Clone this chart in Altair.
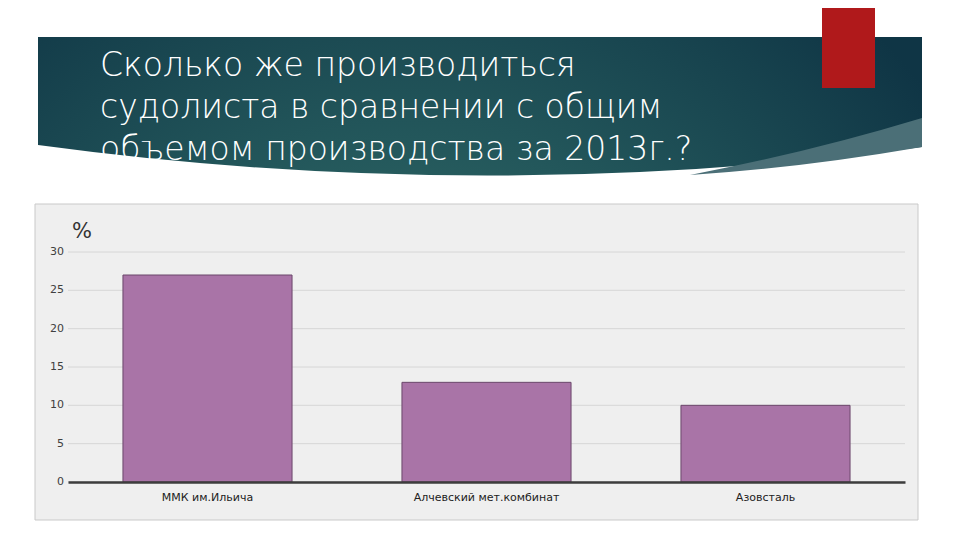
import altair as alt
import pandas as pd

# ---- data ----
categories = ["ММК им.Ильича", "Алчевский мет.комбинат", "Азовсталь"]
values = [27, 13, 10]
y_ticks = [0, 5, 10, 15, 20, 25, 30]
title_lines = ["Сколько же производиться", "судолиста в сравнении с общим", "объемом производства за 2013г.?"]
unit_label = "%"

df = pd.DataFrame({"company": categories, "share": values})
ticks_df = pd.DataFrame({"t": y_ticks})
one = pd.DataFrame({"a": [0]})

# layout (page coordinates of plot origin)
PL, PT = 60, 244
W, H = 837, 230
OX, OY = PL + 8, PT + 8


def px(x):
    return x - OX


def py(y):
    return y - OY


yscale = alt.Scale(domain=[0, 30])

# chart box background
box = alt.Chart(one).mark_rect(fill="#efefef", stroke="#c9c9c9", strokeWidth=1).encode(
    x=alt.value(px(35)), x2=alt.value(px(918)), y=alt.value(py(204)), y2=alt.value(py(520))
)

# header band with curved bottom (path in page coordinates, point placed at page origin)
band_path = "M 38 37 L 922 37 L 922 147 Q 480 205 38 145 Z"
band = alt.Chart(one).mark_point(
    shape=band_path, size=4, filled=True, opacity=1, strokeWidth=0,
    color=alt.RadialGradient(
        gradient="radial",
        x1=0.42, y1=0.95, r1=0.0, x2=0.42, y2=0.95, r2=0.75,
        stops=[alt.GradientStop(offset=0, color="#3f7d70"),
               alt.GradientStop(offset=0.55, color="#23575b"),
               alt.GradientStop(offset=1, color="#0f3545")],
    ),
).encode(x=alt.value(-OX), y=alt.value(-OY))

swoosh_path = "M 922 118 L 922 147 Q 800 168 690 175 Q 810 152 922 118 Z"
swoosh = alt.Chart(one).mark_point(
    shape=swoosh_path, size=4, filled=True, opacity=1, strokeWidth=0, color="#4b6f77"
).encode(x=alt.value(-OX), y=alt.value(-OY))

red = alt.Chart(one).mark_rect(color="#b0191b").encode(
    x=alt.value(px(822)), x2=alt.value(px(875)), y=alt.value(py(0)), y2=alt.value(py(88))
)

title = alt.Chart(one).mark_text(
    text="\n".join(title_lines), lineBreak="\n", lineHeight=42, align="left", baseline="alphabetic",
    font="DejaVu Sans", fontSize=33, fontWeight=200, color="#ffffff",
).encode(x=alt.value(px(100)), y=alt.value(py(76)))

unit = alt.Chart(one).mark_text(
    text=unit_label, align="center", baseline="middle", font="DejaVu Sans", fontSize=21,
    color="#333333",
).encode(x=alt.value(px(82)), y=alt.value(py(232)))

grid = alt.Chart(ticks_df).mark_rule(color="#d6d6d6", strokeWidth=1).encode(
    y=alt.Y("t:Q", scale=yscale, axis=None)
)

ylabels = alt.Chart(ticks_df).mark_text(
    align="right", baseline="middle", font="DejaVu Sans", fontSize=11, color="#404040"
).encode(
    y=alt.Y("t:Q", scale=yscale, axis=None),
    x=alt.value(-4),
    text=alt.Text("t:Q"),
)

bars = alt.Chart(df).mark_bar(color="#a974a7", stroke="#6b476b", strokeWidth=1).encode(
    x=alt.X(
        "company:N", sort=categories, title=None,
        scale=alt.Scale(paddingInner=0.394, paddingOuter=0.197),
        axis=alt.Axis(labelAngle=0, labelFontSize=11, labelColor="#222222", labelFont="DejaVu Sans",
                      labelPadding=9, ticks=False, domainColor="#3d3d3d", domainWidth=2.5, zindex=1),
    ),
    y=alt.Y("share:Q", title=None, scale=yscale, axis=None),
)

chart = alt.layer(box, band, swoosh, red, title, unit, grid, ylabels, bars).properties(
    width=W, height=H,
    autosize=alt.AutoSizeParams(type="none"),
    padding={"left": PL, "top": PT, "right": 944 - PL - W, "bottom": 524 - PT - H},
).configure_view(stroke=None)

chart.save("out.html", embed_options={"renderer": "svg", "actions": False})
